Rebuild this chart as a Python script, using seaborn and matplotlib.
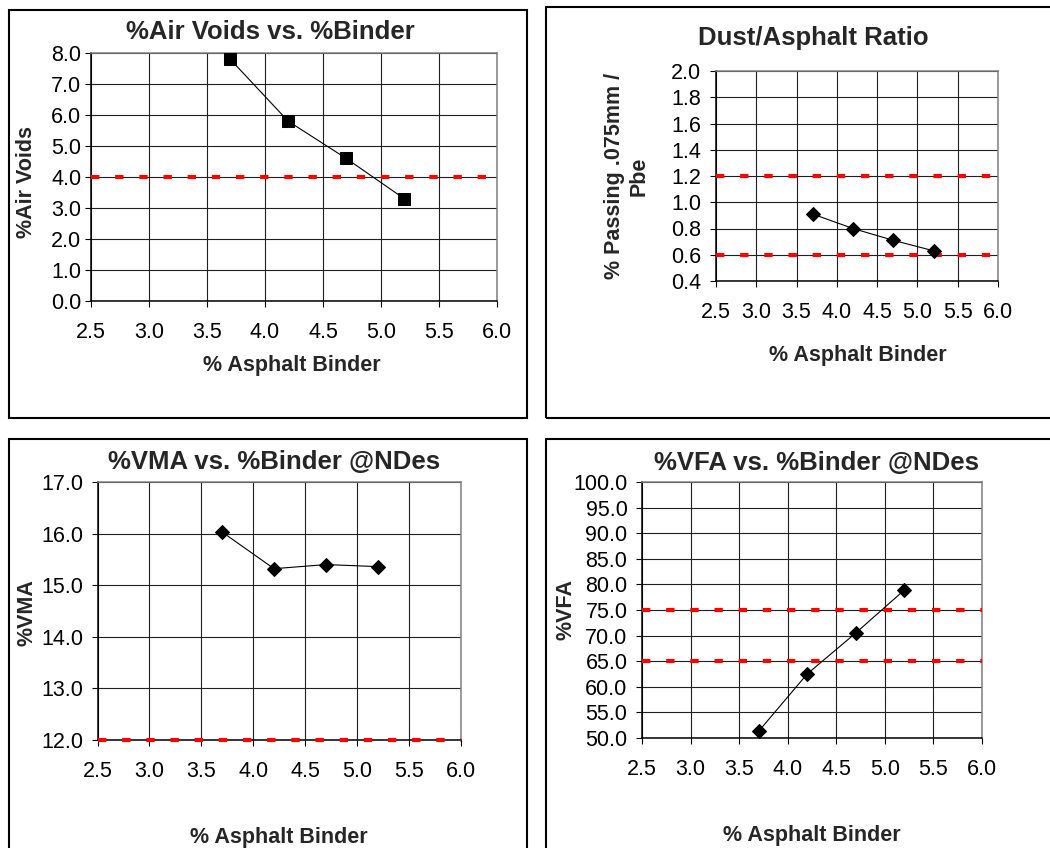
import seaborn as sns
import matplotlib.pyplot as plt
from matplotlib.patches import Rectangle

sns.set_style('white')
plt.rcParams['font.family'] = ['Liberation Sans', 'DejaVu Sans']

# data
binder = [3.7, 4.2, 4.7, 5.2]
air_voids = [7.8, 5.8, 4.6, 3.3]
dust_ratio = [0.91, 0.80, 0.71, 0.63]
vma = [16.03, 15.32, 15.40, 15.36]
vfa = [51.3, 62.5, 70.5, 78.9]

air_limits = [4.0]
dust_limits = [0.6, 1.2]
vma_limits = [12.0]
vfa_limits = [65.0, 75.0]

x_ticks = [2.5, 3.0, 3.5, 4.0, 4.5, 5.0, 5.5, 6.0]
air_ticks = [0.0, 1.0, 2.0, 3.0, 4.0, 5.0, 6.0, 7.0, 8.0]
dust_ticks = [0.4, 0.6, 0.8, 1.0, 1.2, 1.4, 1.6, 1.8, 2.0]
vma_ticks = [12.0, 13.0, 14.0, 15.0, 16.0, 17.0]
vfa_ticks = [50.0, 55.0, 60.0, 65.0, 70.0, 75.0, 80.0, 85.0, 90.0, 95.0, 100.0]

titles = ['%Air Voids vs. %Binder', 'Dust/Asphalt Ratio',
          '%VMA vs. %Binder @NDes', '%VFA vs. %Binder @NDes']
ylabels = ['%Air Voids', '% Passing .075mm /\nPbe', '%VMA', '%VFA']
xlabel = '% Asphalt Binder'

W, H = 1050, 848
fig = plt.figure(figsize=(W / 100, H / 100), dpi=100)


def px_rect(x0, y0, x1, y1):
    return [x0 / W, 1 - y1 / H, (x1 - x0) / W, (y1 - y0) / H]


# outer chart boxes (pixel coords)
for x0, y0, x1, y1 in [(8.5, 10, 526.5, 418), (546, 7, 1056, 418),
                       (8.5, 439, 526.5, 856), (546, 439, 1056, 856)]:
    r = px_rect(x0, y0, x1, y1)
    fig.add_artist(Rectangle((r[0], r[1]), r[2], r[3], transform=fig.transFigure,
                             fill=False, ec='black', lw=1.5))

panels = [
    # axes rect, yvals, limits, yticks, marker, msize, ypad, title pos, xlabel pos, ylabel pos
    (px_rect(91, 53, 497, 301), air_voids, air_limits, air_ticks, 's', 8.5, 2.5,
     (270, 32), (292, 366), (27, 182)),
    (px_rect(716, 71, 998, 281), dust_ratio, dust_limits, dust_ticks, 'D', 7.5, 6,
     (813, 38), (858, 356), (627, 176)),
    (px_rect(97.5, 482, 461, 740), vma, vma_limits, vma_ticks, 'D', 7.5, 6,
     (274, 462), (279, 838), (27, 613)),
    (px_rect(642, 482, 982, 738), vfa, vfa_limits, vfa_ticks, 'D', 7.5, 6,
     (816, 463), (812, 836), (566, 610)),
]

for i, (rect, yvals, limits, yticks, mk, ms, ypad, tpos, xpos, ypos) in enumerate(panels):
    ax = fig.add_axes(rect)
    for lim in limits:
        ax.axhline(lim, color='#ff0000', lw=3.0, dashes=(2.0, 3.8), zorder=3, clip_on=False)
    sns.lineplot(x=binder, y=yvals, ax=ax, color='black', lw=0.8, marker=mk,
                 markersize=ms, markeredgecolor='black', markerfacecolor='black', zorder=4)
    ax.set_xlim(x_ticks[0], x_ticks[-1])
    ax.set_ylim(yticks[0], yticks[-1])
    ax.set_xticks(x_ticks)
    ax.set_xticklabels([f'{t:.1f}' for t in x_ticks])
    ax.set_yticks(yticks)
    ax.set_yticklabels([f'{t:.1f}' for t in yticks])
    ax.set_axisbelow(True)
    ax.grid(True, color='#202020', lw=0.8)
    ax.tick_params(axis='both', direction='out', length=4.5, width=0.8, color='black',
                   labelsize=15.5, labelcolor='black')
    ax.tick_params(axis='x', pad=10.5, bottom=True)
    ax.tick_params(axis='y', pad=ypad, left=True)
    for side in ['left', 'bottom']:
        ax.spines[side].set_color('black')
        ax.spines[side].set_linewidth(1.1)
    for side in ['top', 'right']:
        ax.spines[side].set_color('#808080')
        ax.spines[side].set_linewidth(1.1)

    fig.text(tpos[0] / W, 1 - tpos[1] / H, titles[i], ha='center', va='center',
             fontsize=18.5, fontweight='bold')
    fig.text(xpos[0] / W, 1 - xpos[1] / H, xlabel, ha='center', va='center',
             fontsize=15.5, fontweight='bold')
    fig.text(ypos[0] / W, 1 - ypos[1] / H, ylabels[i], ha='center', va='center',
             rotation=90, fontsize=15.5, fontweight='bold', multialignment='center',
             linespacing=1.2)

plt.savefig('out.png', dpi=100)
